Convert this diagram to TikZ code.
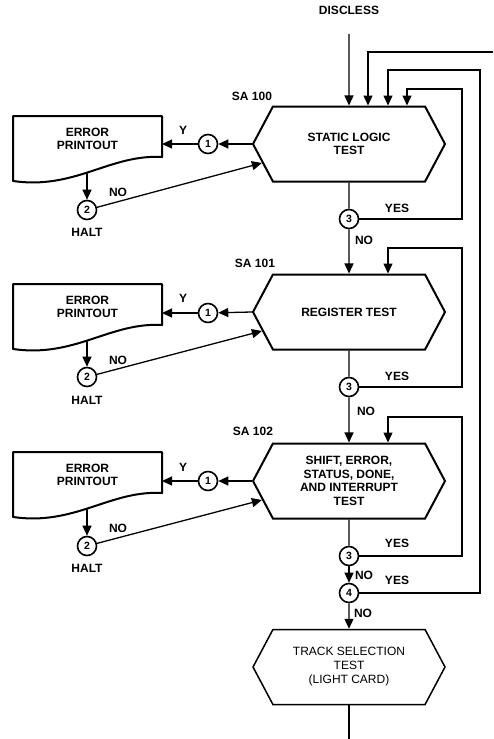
\documentclass[tikz,border=0pt]{standalone}
\usepackage{fontspec}
\setmainfont{Liberation Sans}
\usetikzlibrary{arrows.meta,shapes.symbols}
\tikzset{
  test/.style={signal, signal to=west and east, signal pointer angle=124, draw,
    line width=2pt, minimum width=192pt, minimum height=75pt, inner sep=0pt, align=center},
  conn/.style={circle, draw, line width=1.6pt, minimum size=19pt, inner sep=0pt,
    font=\fontsize{10.5}{11}\selectfont\bfseries},
  errtext/.style={align=center, inner sep=0pt},
  box/.style={line width=2pt, line join=round},
  line/.style={line width=1.3pt},
  flow/.style={line width=1.3pt, -{Triangle[length=10pt,width=9pt]}},
}
\begin{document}
\begin{tikzpicture}[x=1pt, y=-1pt, font=\fontsize{12}{13.5}\selectfont\bfseries]
  \useasboundingbox (0,0) rectangle (493,739);
  % main column
  \node (dis) at (349,10) {DISCLESS};
  \node[test] (t100) at (349,144) {STATIC LOGIC\\TEST};
  \node[test] (t101) at (349,312) {REGISTER TEST};
  \node[test] (t102) at (349,481) {SHIFT, ERROR,\\STATUS, DONE,\\AND INTERRUPT\\TEST};
  \node[test, line width=1.5pt, font=\fontsize{12}{14}\selectfont] (t103) at (349,667) {TRACK SELECTION\\TEST\\(LIGHT CARD)};
  \node (sa100) at (252,96) {SA 100};
  \node (sa101) at (255,263) {SA 101};
  \node (sa102) at (253,431) {SA 102};
  \node[conn] (c100) at (349,219) {3};
  \node[conn] (c101) at (349,387) {3};
  \node[conn] (c102) at (349,556) {3};
  \node[conn] (d102) at (349,593) {4};
  \node (yes100) at (397,208) {YES};
  \node (yes101) at (397,376) {YES};
  \node (yes102) at (397,543) {YES};
  \node (yes103) at (397,580) {YES};
  \node (no100) at (364,240) {NO};
  \node (no101) at (366,411) {NO};
  \node (no102) at (364,575) {NO};
  \node (no103) at (363,613) {NO};
  \coordinate (edge) at (493,52);
  \coordinate (out) at (349,739);
  % error branches
  \node[conn] (a100) at (208,144) {1};
  \node[conn] (a101) at (208,313) {1};
  \node[conn] (a102) at (208,481) {1};
  \node[conn] (b100) at (87,210) {2};
  \node[conn] (b101) at (87,377) {2};
  \node[conn] (b102) at (87,546) {2};
  \node[errtext] (e100) at (87.5,139) {ERROR\\PRINTOUT};
  \node[errtext] (e101) at (87.5,307) {ERROR\\PRINTOUT};
  \node[errtext] (e102) at (87.5,475) {ERROR\\PRINTOUT};
  \draw[box] (13,116) -- (162,116) -- (162,157) .. controls (110,154) and (75,190) .. (13,181) -- cycle;
  \draw[box] (13,284) -- (162,284) -- (162,325) .. controls (110,322) and (75,358) .. (13,349) -- cycle;
  \draw[box] (13,452) -- (162,452) -- (162,493) .. controls (110,490) and (75,526) .. (13,517) -- cycle;
  \coordinate (in100) at (162,144);
  \coordinate (in101) at (162,313);
  \coordinate (in102) at (162,481);
  \coordinate (out100) at (87,172);
  \coordinate (out101) at (87,340);
  \coordinate (out102) at (87,508);
  \node (y100) at (183,130) {Y};
  \node (y101) at (183,298) {Y};
  \node (y102) at (183,467) {Y};
  \node (n100) at (118,192) {NO};
  \node (n101) at (118,360) {NO};
  \node (n102) at (118,528) {NO};
  \node (h100) at (87,232) {HALT};
  \node (h101) at (87,400) {HALT};
  \node (h102) at (87,568) {HALT};
  \begin{scope}[flow]
    \draw[shorten <=16pt] (dis) -- (t100);
    \draw (edge) -| ([xshift=19pt]t100.north);
    \draw (d102) -| (480,70) -| ([xshift=39pt]t100.north);
    \draw (c100) -| (462,89) -| ([xshift=58pt]t100.north);
    \draw (c101) -| (462,248) -| ([xshift=39pt]t101.north);
    \draw (c102) -| (462,417) -| ([xshift=39pt]t102.north);
    \draw (c100) -- (t101);
    \draw (c101) -- (t102);
    \draw (c102) -- (d102);
    \draw (d102) -- (t103);
    \draw (t100.west) -- (a100);
    \draw (t101.west) -- (a101);
    \draw (t102.west) -- (a102);
    \draw (a100) -- (in100);
    \draw (a101) -- (in101);
    \draw (a102) -- (in102);
    \draw (out100) -- (b100);
    \draw (out101) -- (b101);
    \draw (out102) -- (b102);
    \draw (b100) -- ([xshift=10pt,yshift=-19pt]t100.west);
    \draw (b101) -- ([xshift=10pt,yshift=-19pt]t101.west);
    \draw (b102) -- ([xshift=10pt,yshift=-19pt]t102.west);
  \end{scope}
  \begin{scope}[line]
    \draw (t100) -- (c100);
    \draw (t101) -- (c101);
    \draw (t102) -- (c102);
    \draw (t103) -- (out);
  \end{scope}
\end{tikzpicture}
\end{document}
